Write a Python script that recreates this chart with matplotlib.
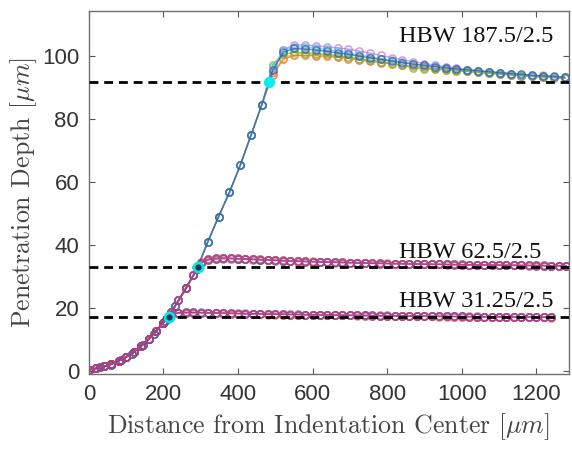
import matplotlib
matplotlib.use("Agg")
import matplotlib.pyplot as plt
import numpy as np

plt.rcParams["mathtext.fontset"] = "cm"

# ---------------- data ----------------
# shared early part of every profile (distance in um, depth in um)
rise_x = list(range(0, 201, 20))
rise_y = [0.3, 0.8, 1.4, 2.1, 3.2, 4.4, 5.9, 7.9, 10.1, 12.6, 15.3]

# HBW 31.25/2.5
low_x = list(range(220, 1241, 20))
low_series = {
    "#A2142F": [17.9, 18.4, 18.5, 18.6, 18.5, 18.4, 18.4, 18.3, 18.2, 18.2,
                18.1, 18.1, 18.1, 18.0, 18.0, 17.9, 17.9, 17.9, 17.8, 17.8,
                17.8, 17.7, 17.7, 17.7, 17.6, 17.6, 17.6, 17.5, 17.5, 17.5,
                17.5, 17.4, 17.4, 17.4, 17.4, 17.3, 17.3, 17.3, 17.3, 17.3,
                17.2, 17.2, 17.2, 17.2, 17.1, 17.1, 17.1, 17.1, 17.1, 17.0,
                17.0, 17.0],
    "#0072BD": [17.9, 18.5, 18.6, 18.5, 18.6, 18.4, 18.5, 18.3, 18.4, 18.2,
                18.3, 18.1, 18.2, 18.0, 18.1, 18.0, 17.9, 18.0, 17.9, 17.8,
                17.9, 17.8, 17.7, 17.8, 17.7, 17.6, 17.7, 17.6, 17.5, 17.6,
                17.5, 17.5, 17.4, 17.5, 17.4, 17.4, 17.3, 17.4, 17.3, 17.3,
                17.2, 17.3, 17.2, 17.2, 17.2, 17.1, 17.2, 17.1, 17.1, 17.1,
                17.0, 17.0],
    "#D95319": [18.0, 18.3, 18.4, 18.4, 18.4, 18.3, 18.3, 18.2, 18.2, 18.1,
                18.1, 18.0, 18.0, 17.9, 17.9, 17.9, 17.8, 17.8, 17.8, 17.7,
                17.7, 17.7, 17.6, 17.6, 17.6, 17.5, 17.5, 17.5, 17.4, 17.4,
                17.4, 17.4, 17.3, 17.3, 17.3, 17.3, 17.2, 17.2, 17.2, 17.2,
                17.2, 17.1, 17.1, 17.1, 17.1, 17.1, 17.0, 17.0, 17.0, 17.0,
                17.0, 16.9],
    "#7E2F8E": [17.8, 18.4, 18.6, 18.6, 18.5, 18.5, 18.4, 18.4, 18.3, 18.3,
                18.2, 18.2, 18.1, 18.1, 18.0, 18.0, 18.0, 17.9, 17.9, 17.9,
                17.8, 17.8, 17.8, 17.7, 17.7, 17.7, 17.6, 17.6, 17.6, 17.5,
                17.5, 17.5, 17.5, 17.4, 17.4, 17.4, 17.4, 17.3, 17.3, 17.3,
                17.3, 17.2, 17.2, 17.2, 17.2, 17.2, 17.1, 17.1, 17.1, 17.1,
                17.1, 17.0],
    "#D0409A": [18.0, 18.5, 18.5, 18.4, 18.5, 18.4, 18.3, 18.3, 18.3, 18.2,
                18.2, 18.1, 18.1, 18.0, 18.0, 18.0, 17.9, 17.9, 17.8, 17.8,
                17.8, 17.7, 17.7, 17.6, 17.6, 17.6, 17.5, 17.5, 17.5, 17.5,
                17.4, 17.4, 17.4, 17.3, 17.3, 17.3, 17.3, 17.3, 17.2, 17.2,
                17.2, 17.2, 17.1, 17.1, 17.1, 17.1, 17.1, 17.0, 17.0, 17.0,
                17.0, 17.0],
}

# HBW 62.5/2.5
mid_rise_x = [220, 240, 260, 280]
mid_rise_y = [18.6, 22.4, 26.3, 30.4]
mid_x = list(range(300, 1281, 20))
mid_series = {
    "#A2142F": [34.4, 35.3, 35.6, 35.7, 35.7, 35.6, 35.5, 35.4, 35.3, 35.2,
                35.1, 35.0, 34.9, 34.8, 34.7, 34.7, 34.6, 34.5, 34.5, 34.4,
                34.4, 34.3, 34.2, 34.2, 34.1, 34.1, 34.0, 34.0, 34.0, 33.9,
                33.9, 33.8, 33.8, 33.8, 33.7, 33.7, 33.7, 33.6, 33.6, 33.6,
                33.6, 33.5, 33.5, 33.5, 33.5, 33.4, 33.4, 33.4, 33.4, 33.3],
    "#0072BD": [34.3, 35.4, 35.7, 35.8, 35.7, 35.6, 35.5, 35.4, 35.3, 35.2,
                35.1, 35.0, 34.9, 34.9, 34.8, 34.7, 34.6, 34.6, 34.5, 34.5,
                34.4, 34.3, 34.3, 34.2, 34.2, 34.1, 34.1, 34.1, 34.0, 34.0,
                33.9, 33.9, 33.9, 33.8, 33.8, 33.8, 33.7, 33.7, 33.7, 33.6,
                33.6, 33.6, 33.6, 33.5, 33.5, 33.5, 33.5, 33.4, 33.4, 33.4],
    "#D95319": [34.5, 35.6, 35.9, 35.9, 35.8, 35.7, 35.6, 35.5, 35.4, 35.3,
                35.2, 35.1, 35.0, 34.9, 34.8, 34.8, 34.7, 34.6, 34.6, 34.5,
                34.4, 34.4, 34.3, 34.3, 34.2, 34.2, 34.1, 34.1, 34.0, 34.0,
                33.9, 33.9, 33.9, 33.8, 33.8, 33.8, 33.7, 33.7, 33.7, 33.7,
                33.6, 33.6, 33.6, 33.5, 33.5, 33.5, 33.5, 33.4, 33.4, 33.4],
    "#7E2F8E": [34.2, 35.2, 35.5, 35.6, 35.6, 35.5, 35.4, 35.3, 35.2, 35.1,
                35.0, 34.9, 34.8, 34.7, 34.7, 34.6, 34.5, 34.5, 34.4, 34.3,
                34.3, 34.2, 34.2, 34.1, 34.1, 34.0, 34.0, 33.9, 33.9, 33.9,
                33.8, 33.8, 33.8, 33.7, 33.7, 33.7, 33.6, 33.6, 33.6, 33.6,
                33.5, 33.5, 33.5, 33.5, 33.4, 33.4, 33.4, 33.4, 33.3, 33.3],
    "#D0409A": [34.3, 35.5, 35.8, 35.8, 35.7, 35.7, 35.6, 35.5, 35.4, 35.3,
                35.2, 35.1, 35.0, 34.9, 34.8, 34.7, 34.7, 34.6, 34.5, 34.5,
                34.4, 34.3, 34.3, 34.2, 34.2, 34.1, 34.1, 34.0, 34.0, 34.0,
                33.9, 33.9, 33.8, 33.8, 33.8, 33.7, 33.7, 33.7, 33.6, 33.6,
                33.6, 33.6, 33.5, 33.5, 33.5, 33.5, 33.4, 33.4, 33.4, 33.4],
}

# HBW 187.5/2.5
high_rise_x = list(range(0, 465, 29))
high_rise_y = [0.3, 1.1, 2.0, 3.6, 5.5, 8.3, 11.8, 15.9, 20.6, 26.2,
               32.4, 41.0, 49.0, 56.7, 65.3, 74.9, 84.6]
high_x = list(range(493, 1277, 29))
high_series = {
    "#D95319": [94.0, 99.0, 100.2, 100.2, 100.1, 99.9, 99.6, 99.2, 98.8, 98.3,
                97.9, 97.5, 97.1, 96.8, 96.4, 96.1, 95.8, 95.5, 95.2, 94.9,
                94.6, 94.3, 94.0, 93.7, 93.5, 93.3, 93.1, 92.9],
    "#EDB120": [94.5, 99.5, 100.6, 100.7, 100.5, 100.2, 99.9, 99.5, 99.1, 98.6,
                98.2, 97.6, 97.0, 96.7, 96.3, 96.0, 95.7, 95.4, 95.1, 94.8,
                94.6, 94.3, 94.1, 93.8, 93.6, 93.9, 93.4, 93.0],
    "#77AC30": [97.3, 100.5, 101.2, 101.0, 100.8, 100.5, 100.1, 99.7, 99.2, 98.7,
                98.2, 97.7, 97.1, 96.2, 95.9, 95.8, 95.6, 95.3, 95.1, 94.8,
                94.5, 94.2, 94.0, 93.8, 93.5, 93.4, 93.2, 93.0],
    "#C070D0": [95.0, 102.0, 103.6, 103.5, 103.2, 102.9, 102.6, 102.2, 101.6, 100.9,
                100.2, 99.5, 98.8, 98.2, 97.6, 97.1, 96.6, 96.1, 95.7, 95.3,
                95.0, 94.7, 94.4, 94.1, 93.8, 93.6, 93.4, 93.2],
    "#4DBEEE": [96.5, 101.8, 102.9, 102.8, 102.5, 102.1, 101.6, 101.0, 100.4, 99.8,
                99.2, 98.6, 98.1, 97.6, 97.1, 96.7, 96.3, 95.9, 95.6, 95.3,
                95.0, 94.7, 94.4, 94.1, 93.9, 93.6, 93.4, 93.2],
    "#1F5FA8": [95.5, 101.2, 102.4, 102.2, 101.9, 101.5, 101.0, 100.5, 100.0, 99.4,
                98.9, 98.4, 97.9, 97.4, 97.0, 96.6, 96.2, 95.9, 95.6, 95.3,
                95.0, 94.7, 94.4, 94.2, 93.9, 93.7, 93.5, 93.3],
}

# reference depths (dashed) and the points where each profile reaches them
ref_depths = [91.7, 32.9, 17.2]
cross_x = [483, 293, 216]
labels = ["HBW 187.5/2.5", "HBW 62.5/2.5", "HBW 31.25/2.5"]
label_y = [106.3, 37.5, 22.0]

# ---------------- figure ----------------
fig = plt.figure(figsize=(5.72, 4.49), dpi=100)
ax = fig.add_axes([0.1554, 0.167, 0.8388, 0.8085])

high_style = dict(marker="o", ms=5.2, mfc="none", mew=1.1, lw=1.0, alpha=0.7)
low_style = dict(marker="o", ms=5.2, mfc="none", mew=1.2, lw=1.0, alpha=0.5)

for c, ys in high_series.items():
    ax.plot(high_rise_x + high_x, high_rise_y + ys, color=c, **high_style)
for c, ys in mid_series.items():
    ax.plot(rise_x + mid_rise_x + mid_x, rise_y + mid_rise_y + ys, color=c, **low_style)
for c, ys in low_series.items():
    ax.plot(rise_x + low_x, rise_y + ys, color=c, **low_style)

for d in ref_depths:
    ax.axhline(d, color="black", lw=2.0, dashes=(3.2, 2.1), zorder=5)

ax.plot(cross_x[:1], ref_depths[:1], "o", ms=7, mfc="#00F0F0", mec="#00F0F0", zorder=6)
ax.plot(cross_x[1:], ref_depths[1:], "o", ms=6.5, mfc="#2a3050", mec="#00E8E8",
        mew=2.0, zorder=6)

for t, yv in zip(labels, label_y):
    ax.text(832, yv, t, fontsize=17.5, family="Liberation Serif", color="#111111",
            ha="left", va="center", zorder=7)

ax.set_xlim(0, 1287)
ax.set_ylim(-1, 114.3)
ax.set_xticks([0, 200, 400, 600, 800, 1000, 1200])
ax.set_yticks([0, 20, 40, 60, 80, 100])

ax.tick_params(direction="in", length=4, width=0.8, color="#555555",
               top=True, right=True, labelsize=16, labelcolor="#333333", pad=7)
for lab in ax.get_xticklabels() + ax.get_yticklabels():
    lab.set_fontfamily("Liberation Sans")
for s in ax.spines.values():
    s.set_color("#707070")
    s.set_linewidth(1.0)

ax.set_xlabel(r"Distance from Indentation Center [$\mu m$]", fontsize=18.6,
              family="cmr10", color="#444444", labelpad=5)
ax.set_ylabel(r"Penetration Depth [$\mu m$]", fontsize=18.6,
              family="cmr10", color="#444444", labelpad=2)

fig.savefig("out.png", dpi=100)
